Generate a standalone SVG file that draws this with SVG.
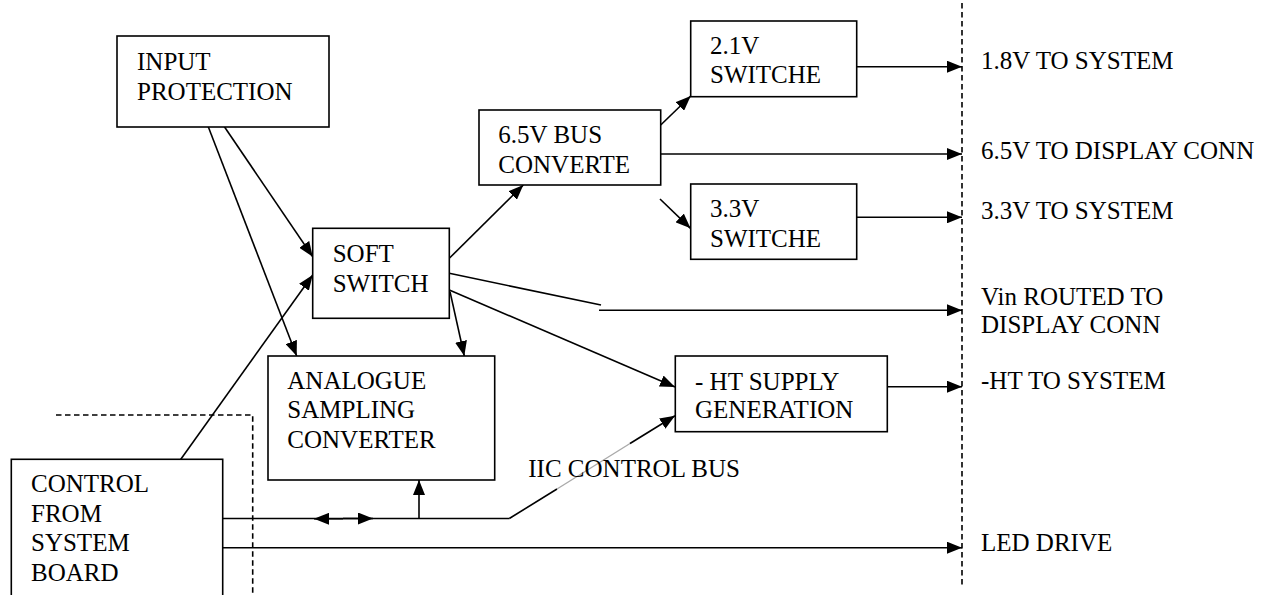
<svg xmlns="http://www.w3.org/2000/svg" width="1274" height="595" viewBox="0 0 1274 595">
<style>
.box{fill:#fff;stroke:#000;stroke-width:1.6}
.t{font-family:'Liberation Serif',serif;font-size:25px;fill:#000}
.c{stroke:#000;stroke-width:1.6;fill:none}
.a{stroke:#000;stroke-width:1.6;fill:none;marker-end:url(#ah)}
.d{stroke:#000;stroke-width:1.6;fill:none;stroke-dasharray:5.5 3.5}
</style>
<defs>
<marker id="ah" markerUnits="userSpaceOnUse" markerWidth="15" markerHeight="12" refX="15" refY="6" orient="auto">
<path d="M0,0 L15,6 L0,12 z" fill="#000"/>
</marker>
</defs>
<rect width="1274" height="595" fill="#fff"/>
<g id="boundaries">
<line class="d" x1="962" y1="3" x2="962" y2="585"/>
<polyline class="d" points="56,415 252.7,415 252.7,595"/>
</g>
<g id="connectors">
<line class="a" x1="222.7" y1="124.3" x2="312.7" y2="256.7"/>
<line class="a" x1="207.3" y1="124.3" x2="296.7" y2="356"/>
<line class="a" x1="178.3" y1="462.7" x2="312.7" y2="275"/>
<line class="a" x1="449.3" y1="258.3" x2="523.3" y2="185"/>
<line class="a" x1="450" y1="291.7" x2="464.3" y2="356"/>
<line class="c" x1="449.3" y1="273.3" x2="601" y2="305"/>
<line class="a" x1="599" y1="310.3" x2="962" y2="310.3"/>
<line class="a" x1="449.3" y1="290" x2="675" y2="387"/>
<line class="a" x1="660.7" y1="125" x2="690.7" y2="96"/>
<line class="a" x1="660.7" y1="154" x2="962" y2="154"/>
<line class="a" x1="660" y1="199" x2="690.5" y2="228.3"/>
<line class="a" x1="856.7" y1="66.7" x2="962" y2="66.7"/>
<line class="a" x1="856.7" y1="217.3" x2="962" y2="217.3"/>
<line class="a" x1="887.3" y1="386.7" x2="962" y2="386.7"/>
<line class="c" x1="222.7" y1="518.5" x2="509.3" y2="518.5"/>
<line class="a" x1="343" y1="518.8" x2="314" y2="518.8"/>
<line class="a" x1="343" y1="518.5" x2="373" y2="518.5"/>
<line class="a" x1="419" y1="518.5" x2="419" y2="480"/>
<line class="c" x1="509.3" y1="518.5" x2="557" y2="489"/>
<line stroke="#aaa" stroke-width="1.4" x1="557" y1="489" x2="630" y2="443.5"/>
<line class="a" x1="630" y1="443.5" x2="675" y2="415.7"/>
<line class="a" x1="222.7" y1="547.7" x2="962" y2="547.7"/>
</g>
<g id="input-protection">
<rect class="box" x="117" y="36" width="212" height="91"/>
<text class="t" x="137" y="70">INPUT</text>
<text class="t" x="137" y="100">PROTECTION</text>
</g>
<g id="soft-switch">
<rect class="box" x="312.7" y="228.3" width="136.6" height="90"/>
<text class="t" x="332.7" y="261.7">SOFT</text>
<text class="t" x="332.7" y="291.7">SWITCH</text>
</g>
<g id="bus-converter">
<rect class="box" x="479" y="110" width="181.7" height="75"/>
<text class="t" x="498.3" y="142.7">6.5V BUS</text>
<text class="t" x="498.3" y="172.7">CONVERTE</text>
</g>
<g id="switch-21">
<rect class="box" x="690.7" y="21" width="166" height="75.7"/>
<text class="t" x="710" y="54">2.1V</text>
<text class="t" x="710" y="83.3">SWITCHE</text>
</g>
<g id="switch-33">
<rect class="box" x="690.7" y="184" width="166" height="75.3"/>
<text class="t" x="710" y="217.3">3.3V</text>
<text class="t" x="710" y="246.7">SWITCHE</text>
</g>
<g id="analogue">
<rect class="box" x="268" y="356" width="226.7" height="124"/>
<text class="t" x="287.3" y="389.3">ANALOGUE</text>
<text class="t" x="287.3" y="418.3">SAMPLING</text>
<text class="t" x="287.3" y="448.3">CONVERTER</text>
</g>
<g id="ht-supply">
<rect class="box" x="675.3" y="356" width="212" height="75.7"/>
<text class="t" x="695" y="390">- HT SUPPLY</text>
<text class="t" x="695" y="418.3">GENERATION</text>
</g>
<g id="control">
<rect class="box" x="11.3" y="459.3" width="211.4" height="145"/>
<text class="t" x="31" y="492.3">CONTROL</text>
<text class="t" x="31" y="521.5">FROM</text>
<text class="t" x="31" y="551">SYSTEM</text>
<text class="t" x="31" y="581">BOARD</text>
</g>
<g id="labels">
<text class="t" x="528.3" y="477.3">IIC CONTROL BUS</text>
<text class="t" x="981" y="69">1.8V TO SYSTEM</text>
<text class="t" x="981" y="159.3">6.5V TO DISPLAY CONN</text>
<text class="t" x="981" y="219.3">3.3V TO SYSTEM</text>
<text class="t" x="981" y="305">Vin ROUTED TO</text>
<text class="t" x="981" y="333.3">DISPLAY CONN</text>
<text class="t" x="981" y="389.3">-HT TO SYSTEM</text>
<text class="t" x="981" y="550.7">LED DRIVE</text>
</g>
</svg>
